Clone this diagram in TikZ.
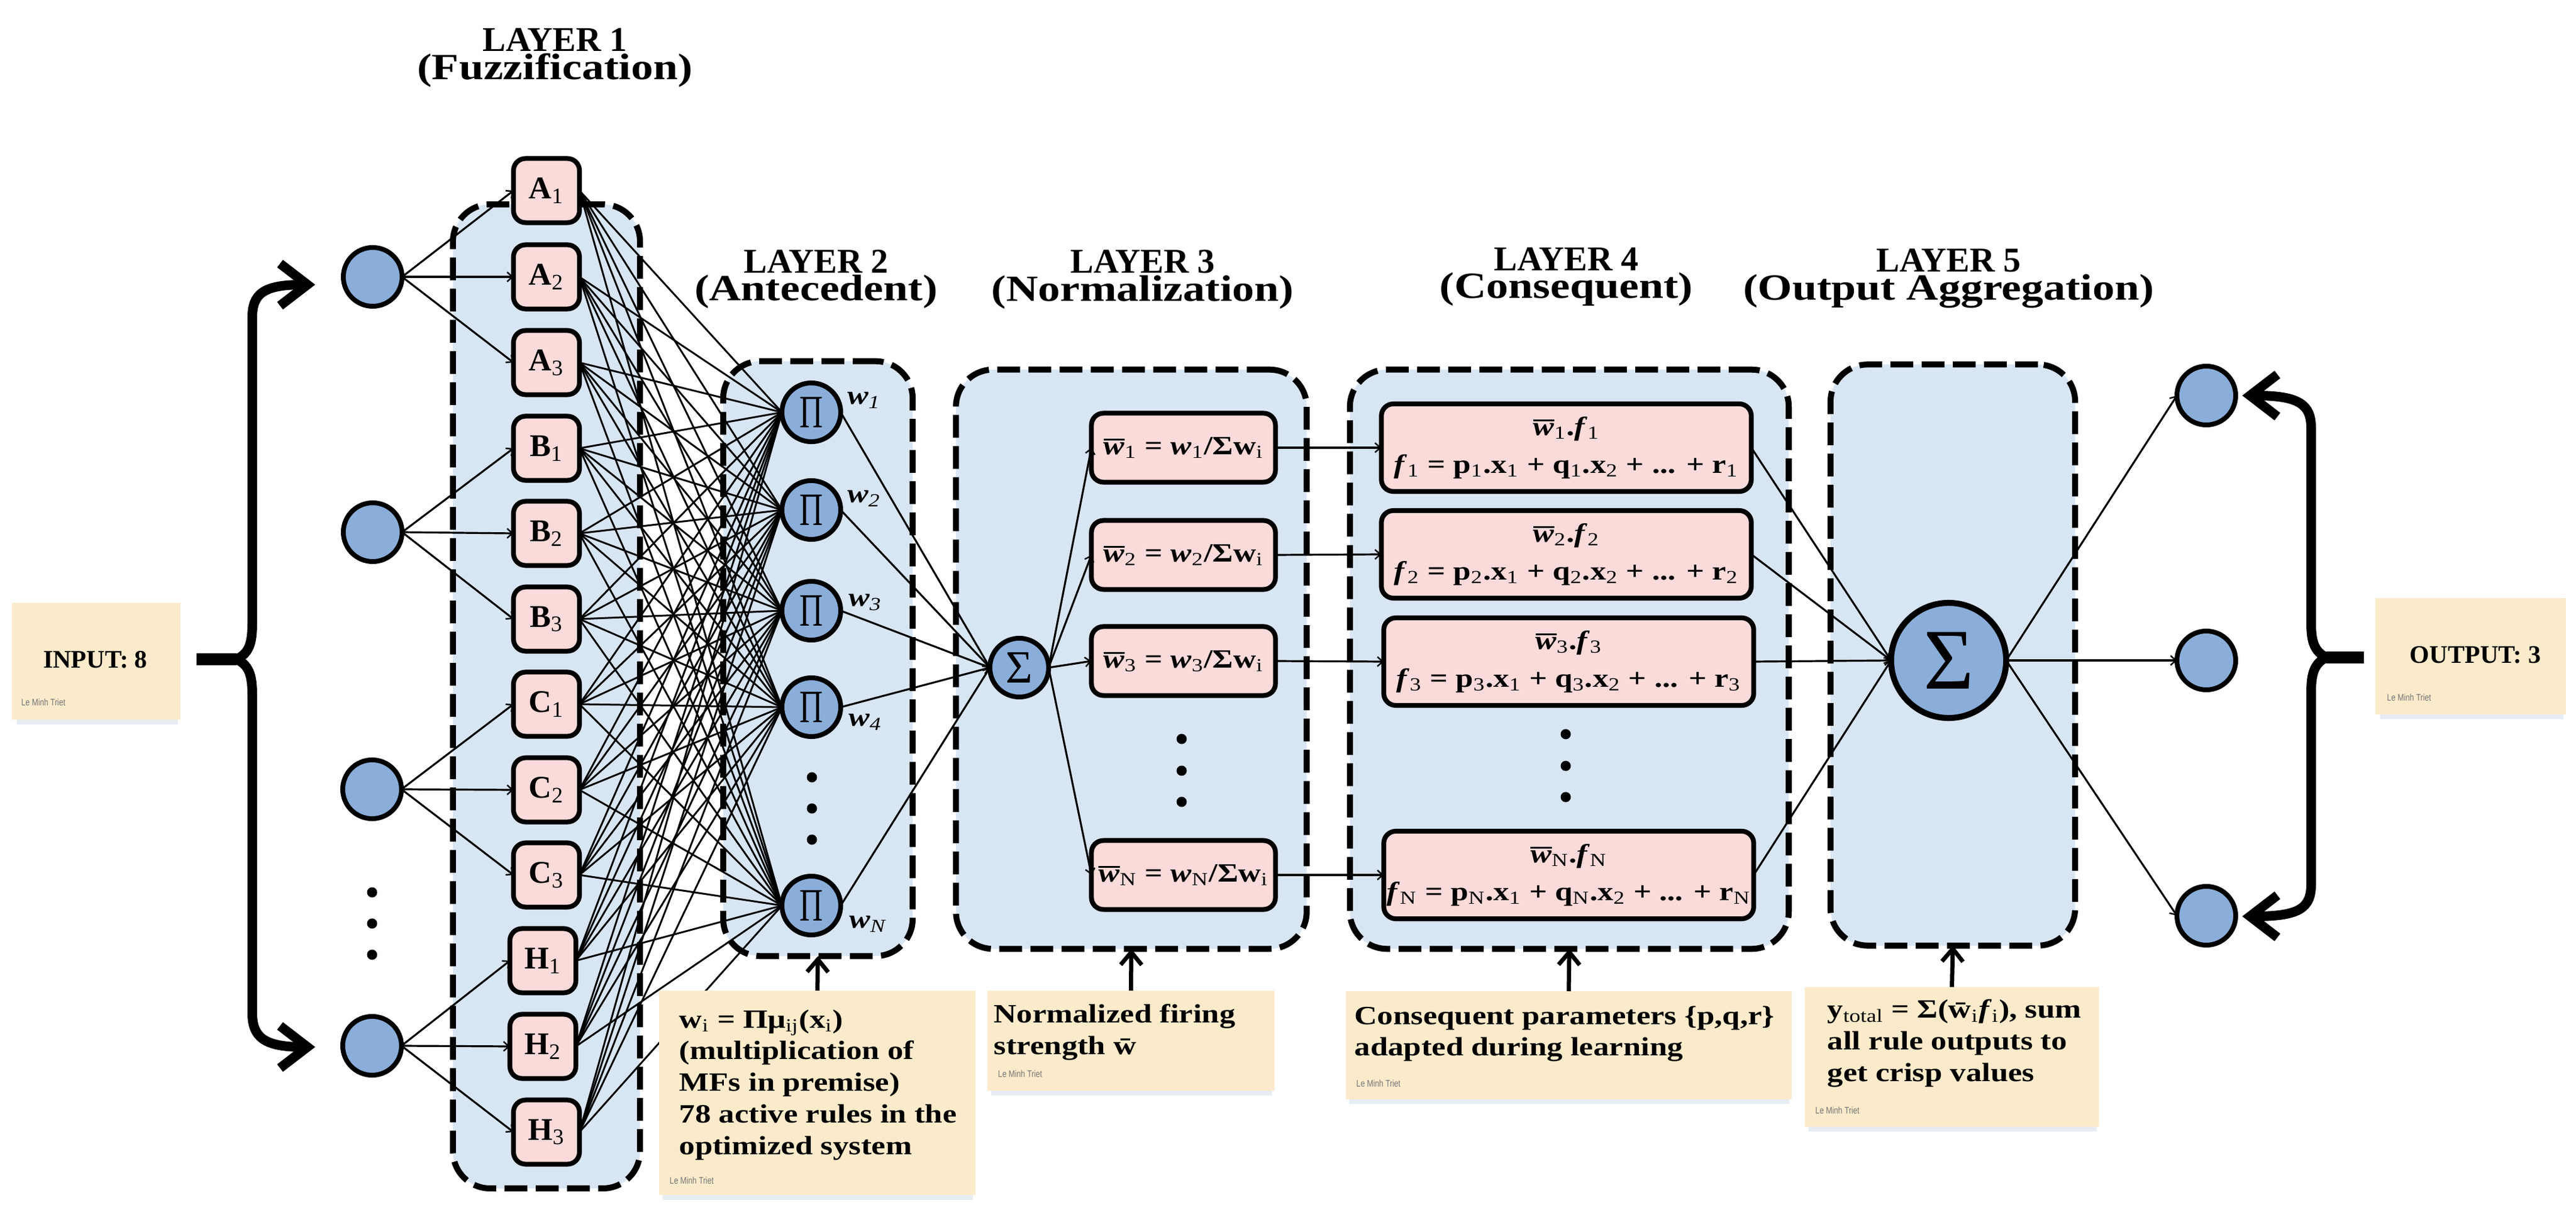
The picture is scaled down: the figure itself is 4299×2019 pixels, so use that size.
\documentclass[tikz,border=0pt]{standalone}
\usepackage{fontspec}
\setmainfont[FakeStretch=1.2]{Liberation Serif}
\newfontfamily\capfont{Liberation Serif}
\newfontfamily\pifont[FakeStretch=.7]{Liberation Serif}
\newfontfamily\credfont[FakeStretch=.8]{Liberation Sans}
\usetikzlibrary{arrows.meta,positioning}
\definecolor{layerfill}{HTML}{D8E5F3}
\definecolor{pinkfill}{HTML}{FADBD9}
\definecolor{bluefill}{HTML}{8AAED9}
\definecolor{notefill}{HTML}{FCEBCB}
\definecolor{noteshadow}{HTML}{E6ECF2}
\newcommand\sbs[1]{\textsubscript{\mdseries #1}}
\newcommand\wbar{\leavevmode\rlap{\raisebox{1.15ex}{\rule{.8em}{.9pt}}}\textit{w}}
\tikzset{
  layerbox/.style={draw=black,fill=layerfill,line width=.1cm,dash pattern=on .38cm off .14cm,rounded corners=.62cm,inner sep=0,outer sep=0},
  mfbox/.style={draw=black,fill=pinkfill,line width=.08cm,rounded corners=.2cm,minimum width=1.10cm,minimum height=1.07cm,inner sep=0,outer sep=0,font=\capfont\fontsize{15pt}{18pt}\selectfont\bfseries},
  normbox/.style={draw=black,fill=pinkfill,line width=.08cm,rounded corners=.2cm,minimum width=3.07cm,minimum height=1.15cm,inner sep=0,outer sep=0,font=\fontsize{12.5pt}{15pt}\selectfont\bfseries},
  consbox/.style={draw=black,fill=pinkfill,line width=.08cm,rounded corners=.2cm,minimum width=6.17cm,minimum height=1.46cm,inner sep=0,outer sep=0,align=center,font=\fontsize{12.5pt}{18pt}\selectfont\bfseries},
  neuron/.style={circle,draw=black,fill=bluefill,line width=.08cm,minimum size=.98cm,inner sep=0,outer sep=0},
  bigneuron/.style={circle,draw=black,fill=bluefill,line width=.1cm,minimum size=1.92cm,inner sep=0,outer sep=0},
  wlabel/.style={inner sep=0,font=\fontsize{12.5pt}{15pt}\selectfont\bfseries\itshape},
  link/.style={draw=black,line width=.032cm,-{Straight Barb[length=2.5pt,width=4.5pt,line width=.7pt]}},
  bundle/.style={draw=black,line width=.03cm},
  bigarrow/.style={draw=black,line width=.16cm,line join=round,{Straight Barb[length=13pt,width=20pt,line width=4.5pt]}-{Straight Barb[length=13pt,width=20pt,line width=4.5pt]}},
  stem/.style={draw=black,line width=.2cm},
  uparrow/.style={draw=black,line width=.07cm,-{Straight Barb[length=6pt,width=10pt,line width=2pt]}},
  note/.style={fill=notefill,inner sep=0,outer sep=0},
  notetext/.style={inner sep=0,anchor=west,align=left,font=\fontsize{12.5pt}{15pt}\selectfont\bfseries},
  credit/.style={inner sep=0,anchor=west,text=black!55,font=\credfont\fontsize{4.5pt}{5pt}\selectfont},
  titletext/.style={inner sep=0,align=center},
  dotmark/.style={circle,fill=black,inner sep=0,minimum size=.17cm,outer sep=0},
}
\newcommand\layertitle[2]{{\capfont\fontsize{16.5pt}{19.9pt}\selectfont\bfseries #1}\\{\fontsize{17.5pt}{19.9pt}\selectfont\bfseries #2}}
\begin{document}
\begin{tikzpicture}[x=.01cm,y=-.01cm]
\useasboundingbox (0,0) rectangle (4299,2019);
% layer panels
\node[layerbox,minimum width=3.12cm,minimum height=16.41cm] (L1) at (912,1162) {};
\node[layerbox,minimum width=3.16cm,minimum height=9.92cm] (L2) at (1365,1099) {};
\node[layerbox,minimum width=5.85cm,minimum height=9.66cm] (L3) at (1888,1100) {};
\node[layerbox,minimum width=7.32cm,minimum height=9.66cm] (L4) at (2619,1100) {};
\node[layerbox,minimum width=4.08cm,minimum height=9.69cm] (L5) at (3259,1093) {};
% titles
\node[titletext] (T1) at (926,96) {\layertitle{LAYER 1}{(Fuzzification)}};
\node[titletext] (T2) at (1362,466) {\layertitle{LAYER 2}{(Antecedent)}};
\node[titletext] (T3) at (1907,466) {\layertitle{LAYER 3}{(Normalization)}};
\node[titletext] (T4) at (2614,462) {\layertitle{LAYER 4}{(Consequent)}};
\node[titletext] (T5) at (3252,465) {\layertitle{LAYER 5}{(Output Aggregation)}};
% input neurons
\node[neuron] (I1) at (622,462) {};
\node[neuron] (I2) at (622,888) {};
\node[neuron] (I3) at (621,1317) {};
\node[neuron] (I4) at (621,1745) {};
\node[dotmark] (id1) at (621,1489) {};
\node[dotmark] (id2) at (621,1541) {};
\node[dotmark] (id3) at (621,1593) {};
% membership functions
\node[mfbox] (A1) at (912,318) {A\sbs{1}};
\node[mfbox] (A2) at (912,462) {A\sbs{2}};
\node[mfbox] (A3) at (912,605) {A\sbs{3}};
\node[mfbox] (B1) at (912,748) {B\sbs{1}};
\node[mfbox] (B2) at (912,890) {B\sbs{2}};
\node[mfbox] (B3) at (912,1033) {B\sbs{3}};
\node[mfbox] (C1) at (912,1175) {C\sbs{1}};
\node[mfbox] (C2) at (912,1318) {C\sbs{2}};
\node[mfbox] (C3) at (912,1460) {C\sbs{3}};
\node[mfbox] (H1) at (906,1603) {H\sbs{1}};
\node[mfbox] (H2) at (906,1746) {H\sbs{2}};
\node[mfbox] (H3) at (912,1889) {H\sbs{3}};
% product neurons
\foreach \n/\y in {P1/688,P2/851,P3/1019,P4/1180,PN/1511}{
  \node[neuron,font=\pifont\fontsize{22pt}{22pt}\selectfont] (\n) at (1354,\y) {Π};
}
\node[dotmark] (pd1) at (1355,1297) {};
\node[dotmark] (pd2) at (1355,1349) {};
\node[dotmark] (pd3) at (1355,1401) {};
\node[wlabel] (w1) at (1442,668) {w\sbs{1}};
\node[wlabel] (w2) at (1442,832) {w\sbs{2}};
\node[wlabel] (w3) at (1444,1005) {w\sbs{3}};
\node[wlabel] (w4) at (1444,1205) {w\sbs{4}};
\node[wlabel] (wN) at (1448,1542) {w\sbs{N}};
% sum neuron
\node[neuron,font=\capfont\fontsize{22pt}{22pt}\selectfont] (S) at (1701,1114) {Σ};
% normalization
\node[normbox] (W1) at (1975,747) {\wbar\sbs{1} = \textit{w}\sbs{1}/Σw\sbs{i}};
\node[normbox] (W2) at (1975,926) {\wbar\sbs{2} = \textit{w}\sbs{2}/Σw\sbs{i}};
\node[normbox] (W3) at (1975,1103) {\wbar\sbs{3} = \textit{w}\sbs{3}/Σw\sbs{i}};
\node[normbox] (WN) at (1975,1460) {\wbar\sbs{N} = \textit{w}\sbs{N}/Σw\sbs{i}};
\node[dotmark] (nd1) at (1972,1233) {};
\node[dotmark] (nd2) at (1972,1286) {};
\node[dotmark] (nd3) at (1972,1338) {};
% consequents
\node[consbox] (F1) at (2614,747) {\wbar\sbs{1}.\textit{f}\sbs{1}\\\textit{f}\sbs{1} = p\sbs{1}.x\sbs{1} + q\sbs{1}.x\sbs{2} + ... + r\sbs{1}};
\node[consbox] (F2) at (2614,925) {\wbar\sbs{2}.\textit{f}\sbs{2}\\\textit{f}\sbs{2} = p\sbs{2}.x\sbs{1} + q\sbs{2}.x\sbs{2} + ... + r\sbs{2}};
\node[consbox] (F3) at (2618,1104) {\wbar\sbs{3}.\textit{f}\sbs{3}\\\textit{f}\sbs{3} = p\sbs{3}.x\sbs{1} + q\sbs{3}.x\sbs{2} + ... + r\sbs{3}};
\node[consbox] (FN) at (2618,1460) {\wbar\sbs{N}.\textit{f}\sbs{N}\\\textit{f}\sbs{N} = p\sbs{N}.x\sbs{1} + q\sbs{N}.x\sbs{2} + ... + r\sbs{N}};
\node[dotmark] (fd1) at (2613,1225) {};
\node[dotmark] (fd2) at (2613,1278) {};
\node[dotmark] (fd3) at (2613,1330) {};
% output
\node[bigneuron,font=\capfont\fontsize{41pt}{41pt}\selectfont] (SS) at (3252,1102) {Σ};
\node[neuron] (O1) at (3682,660) {};
\node[neuron] (O2) at (3682,1102) {};
\node[neuron] (O3) at (3682,1528) {};
% input -> MFs
\foreach \i/\a/\b/\c in {I1/A1/A2/A3,I2/B1/B2/B3,I3/C1/C2/C3,I4/H1/H2/H3}{
  \draw[link] (\i.east) -- (\a.west);
  \draw[link] (\i.east) -- (\b.west);
  \draw[link] (\i.east) -- (\c.west);
}
% MFs -> rules
\foreach \m in {A1,A2,A3,B1,B2,B3,C1,C2,C3,H1,H2,H3}{
  \foreach \p in {P1,P2,P3,P4,PN}{
    \draw[bundle] (\m.east) -- (\p.west);
  }
}
% rules -> sum
\foreach \p in {P1,P2,P3,P4,PN}{
  \draw[link] (\p.east) -- (S.west);
}
% sum -> normalization -> consequent -> output
\foreach \w/\f in {W1/F1,W2/F2,W3/F3,WN/FN}{
  \draw[link] (S.east) -- (\w.west);
  \draw[link] (\w.east) -- (\f.west);
  \draw[link] (\f.east) -- (SS.west);
}
\foreach \o in {O1,O2,O3}{
  \draw[link] (SS.east) -- (\o.west);
}
% notes
\fill[noteshadow] (28,1195) rectangle (297,1209);
\node[note,minimum width=2.81cm,minimum height=1.95cm] (Nin) at (160.5,1103.5) {};
\node[inner sep=0,font=\capfont\fontsize{12pt}{14pt}\selectfont\bfseries] (NinT) at (159,1101) {INPUT: 8};
\node[credit] (NinC) at (35,1172) {Le Minh Triet};
\fill[noteshadow] (3972,1186) rectangle (4278,1200);
\node[note,minimum width=3.18cm,minimum height=1.94cm] (Nout) at (4123,1095) {};
\node[inner sep=0,font=\capfont\fontsize{12pt}{14pt}\selectfont\bfseries] (NoutT) at (4131,1093) {OUTPUT: 3};
\node[credit] (NoutC) at (3983,1164) {Le Minh Triet};
\fill[noteshadow] (1106,1988) rectangle (1624,2002);
\node[note,minimum width=5.28cm,minimum height=3.41cm] (N2) at (1364,1823.5) {};
\node[notetext] (N2T) at (1133,1810) {w\sbs{i} = Πμ\sbs{ij}(x\sbs{i})\\(multiplication of\\MFs in premise)\\78 active rules in the\\optimized system};
\node[credit] (N2C) at (1117,1970) {Le Minh Triet};
\fill[noteshadow] (1654,1814) rectangle (2123,1828);
\node[note,minimum width=4.79cm,minimum height=1.67cm] (N3) at (1887.5,1736.5) {};
\node[notetext] (N3T) at (1658,1722) {Normalized firing\\strength w̄};
\node[credit] (N3C) at (1665,1792) {Le Minh Triet};
\fill[noteshadow] (2252,1828) rectangle (2986,1842);
\node[note,minimum width=7.44cm,minimum height=1.80cm] (N4) at (2618,1744) {};
\node[notetext] (N4T) at (2260,1725) {Consequent parameters \{p,q,r\}\\adapted during learning};
\node[credit] (N4C) at (2263,1808) {Le Minh Triet};
\fill[noteshadow] (3018,1874) rectangle (3499,1888);
\node[note,minimum width=4.91cm,minimum height=2.33cm] (N5) at (3257.5,1763.5) {};
\node[notetext] (N5T) at (3049,1741) {y\sbs{total} = Σ(w̄\sbs{i}\textit{f}\sbs{i}), sum\\all rule outputs to\\get crisp values};
\node[credit] (N5C) at (3029,1853) {Le Minh Triet};
% up arrows
\draw[uparrow] (N2.north) -- (L2.south);
\draw[uparrow] (N3.north) -- (L3.south);
\draw[uparrow] (N4.north) -- (L4.south);
\draw[uparrow] (N5.north) -- (L5.south);
% braces
\coordinate (itop) at (526,475);
\coordinate (ibot) at (526,1747);
\coordinate (icusp) at (395,1100);
\coordinate (istem) at (328,1100);
\draw[bigarrow] (itop) .. controls (440,475) and (421,490) .. (421,530) -- (421,1040) .. controls (421,1075) and (415,1090) .. (icusp) .. controls (415,1110) and (421,1125) .. (421,1160) -- (421,1690) .. controls (421,1730) and (440,1747) .. (ibot);
\draw[stem] (istem) -- (icusp);
\coordinate (otop) at (3742,660);
\coordinate (obot) at (3742,1529);
\coordinate (ocusp) at (3882,1097);
\coordinate (ostem) at (3945,1097);
\draw[bigarrow] (otop) .. controls (3838,660) and (3857,675) .. (3857,715) -- (3857,1040) .. controls (3857,1072) and (3863,1087) .. (ocusp) .. controls (3863,1107) and (3857,1122) .. (3857,1155) -- (3857,1475) .. controls (3857,1515) and (3838,1529) .. (obot);
\draw[stem] (ostem) -- (ocusp);
\end{tikzpicture}
\end{document}
